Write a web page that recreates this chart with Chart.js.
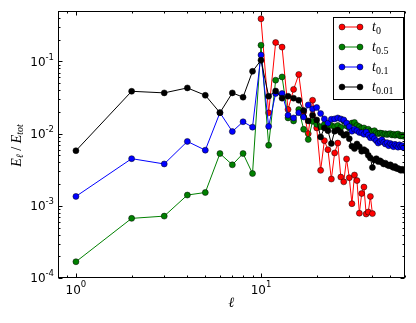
<!DOCTYPE html>
<html><head><meta charset="utf-8">
<script src="https://cdn.jsdelivr.net/npm/chart.js@4/dist/chart.umd.min.js"></script>
<style>html,body{margin:0;padding:0;background:#fff}#wrap{width:416px;height:323px}</style>
</head><body><div id="wrap"><canvas id="c" width="416" height="323"></canvas></div>
<script>
// ---- data ----
const ell = [1,2,3,4,5,6,7,8,9,10,11,12,13,14,15,16,17,18,19,20,21,22,23,24,25,26,27,28,29,30,
             31,32,33,34,35,36,37,38,39,40,41,42,43,44,45,46,47,48,49,50,51,52,53,54,55,56,57,58,59];
const seriesLabels = ['0', '0.5', '0.1', '0.01'];
const t0 = [null,null,null,null,null,null,null,null,null,
  0.39,0.0194,0.183,0.158,0.0216,0.041,0.066,0.020,0.0100,0.029,0.012,
  0.0031,0.008,0.006,0.00235,0.0054,0.0074,0.0025,0.00215,0.00446,0.00245,
  0.00107,0.00267,0.00224,0.00079,0.00148,0.00182,0.00077,0.00082,0.00135,0.00078,
  null,null,null,null,null,null,null,null,null,null,null,null,null,null,null,null,null,null,null];
const t05 = [0.000168,0.00067,0.00072,0.00141,0.00153,0.0053,0.0037,0.0053,0.0028,
  0.168,0.0069,0.055,0.061,0.0165,0.015,0.0216,0.0115,0.0083,0.0148,0.0135,
  0.0125,0.0134,0.0128,0.0130,0.0125,0.0130,0.0122,0.0150,0.0128,0.0120,
  0.0140,0.0143,0.0130,0.0125,0.0118,0.0120,0.0112,0.0115,0.0108,0.0106,
  0.0110,0.0103,0.0100,0.0102,0.0101,0.0098,0.0100,0.0097,0.0099,0.0100,
  0.0096,0.0098,0.0095,0.0097,0.0099,0.0094,0.0093,0.0095,0.0092];
const t01 = [0.00135,0.0045,0.0038,0.0078,0.0059,0.0195,0.0107,0.0146,0.0123,
  0.123,0.0126,0.036,0.036,0.018,0.0165,0.0195,0.017,0.025,0.022,0.023,
  0.019,0.016,0.014,0.0158,0.016,0.0165,0.016,0.0155,0.014,0.0125,
  0.0108,0.0115,0.0110,0.0104,0.0103,0.0098,0.0105,0.0095,0.0088,0.0092,
  0.0085,0.0080,0.0074,0.0078,0.0082,0.0076,0.0072,0.0075,0.0068,0.0073,
  0.0070,0.0066,0.0071,0.0068,0.0065,0.0070,0.0066,0.0068,0.0064];
const t001 = [0.0058,0.0386,0.0367,0.043,0.034,0.0195,0.0367,0.032,0.073,
  0.104,0.033,0.039,0.031,0.033,0.031,0.029,0.021,0.015,0.018,0.0155,
  0.009,0.012,0.011,0.0073,0.0108,0.0112,0.0104,0.0095,0.0098,0.0085,
  0.0067,0.0062,0.0072,0.0066,0.0057,0.0060,0.0057,0.0050,0.0046,0.0034,
  0.0043,0.0045,0.0041,0.0042,0.0040,0.0038,0.0039,0.0037,0.0036,0.0037,
  0.0035,0.0034,0.0035,0.0033,0.0033,0.0032,0.0031,0.0032,0.0031];
const xTickValues = [1, 10];
const xTickLabels = [['10','0'], ['10','1']];
const yTickValues = [1e-4, 1e-3, 1e-2, 1e-1];
const yTickLabels = [['10','-4'], ['10','-3'], ['10','-2'], ['10','-1']];

// ---- styles ----
const colors = ['#ff0000', '#008000', '#0000ff', '#000000'];
const allSeries = [t0, t05, t01, t001];

function pts(vals) {
  const out = [];
  vals.forEach((v, i) => { if (v !== null) out.push({x: ell[i], y: v}); });
  return out;
}

const datasets = allSeries.map((vals, i) => ({
  label: 't' + seriesLabels[i],
  data: pts(vals),
  borderColor: colors[i],
  backgroundColor: colors[i],
  pointBackgroundColor: colors[i],
  pointBorderColor: '#000',
  pointBorderWidth: 0.5,
  pointRadius: 3,
  borderWidth: 1,
  tension: 0,
  order: 4 - i
}));

const SANS = "'DejaVu Sans', sans-serif";
const SERIF = "'Liberation Serif','DejaVu Serif', serif";

function richWidth(ctx, parts) {
  let w = 0;
  parts.forEach(p => { ctx.font = p.font; w += ctx.measureText(p.t).width; });
  return w;
}
function drawRich(ctx, parts, x, y) {
  let cx = x;
  parts.forEach(p => {
    ctx.font = p.font;
    ctx.fillText(p.t, cx, y + (p.dy || 0));
    cx += ctx.measureText(p.t).width;
  });
}

const deco = {
  id: 'deco',
  afterDraw(chart) {
    const ctx = chart.ctx;
    const a = chart.chartArea;
    const xs = chart.scales.x, ys = chart.scales.y;
    ctx.save();
    ctx.fillStyle = '#000';
    ctx.strokeStyle = '#000';
    ctx.lineWidth = 1;
    const L = Math.round(a.left) + 0.5, R = Math.round(a.right) - 0.5;
    const T = Math.round(a.top) + 0.5, B = Math.round(a.bottom) - 0.5;
    // ticks
    ctx.beginPath();
    for (let d = -1; d <= 2; d++) {
      for (let m = 1; m <= 9; m++) {
        const v = m * Math.pow(10, d);
        if (v < xs.min || v > xs.max) continue;
        const px = Math.round(xs.getPixelForValue(v)) + 0.5;
        const len = m === 1 ? 4 : 2;
        ctx.moveTo(px, B); ctx.lineTo(px, B - len);
        ctx.moveTo(px, T); ctx.lineTo(px, T + len);
      }
    }
    for (let d = -5; d <= 0; d++) {
      for (let m = 1; m <= 9; m++) {
        const v = m * Math.pow(10, d);
        if (v < ys.min || v > ys.max) continue;
        const py = Math.round(ys.getPixelForValue(v)) + 0.5;
        const len = m === 1 ? 4 : 2;
        ctx.moveTo(L, py); ctx.lineTo(L + len, py);
        ctx.moveTo(R, py); ctx.lineTo(R - len, py);
      }
    }
    ctx.stroke();
    // frame
    ctx.strokeRect(L, T, R - L, B - T);

    // tick labels
    ctx.textBaseline = 'middle';
    ctx.textAlign = 'left';
    const baseF = '12px ' + SANS, expF = '8.5px ' + SANS;
    yTickValues.forEach((v, i) => {
      const py = ys.getPixelForValue(v);
      const parts = [{t: yTickLabels[i][0], font: baseF, dy: 1},
                     {t: yTickLabels[i][1], font: expF, dy: -4}];
      const w = richWidth(ctx, parts);
      drawRich(ctx, parts, a.left - 4 - w, py);
    });
    xTickValues.forEach((v, i) => {
      const px = xs.getPixelForValue(v);
      const parts = [{t: xTickLabels[i][0], font: baseF, dy: 0},
                     {t: xTickLabels[i][1], font: expF, dy: -6}];
      const w = richWidth(ctx, parts);
      drawRich(ctx, parts, px - w / 2, a.bottom + 13);
    });

    // x title
    ctx.font = 'italic 14px ' + SERIF;
    ctx.textAlign = 'center';
    ctx.fillText('ℓ', (a.left + a.right) / 2, a.bottom + 25);

    // y title
    ctx.save();
    ctx.translate(17, (a.top + a.bottom) / 2 + 1);
    ctx.rotate(-Math.PI / 2);
    ctx.textAlign = 'left';
    const yParts = [
      {t: 'E', font: 'italic 14px ' + SERIF, dy: 0},
      {t: 'ℓ', font: 'italic 10px ' + SERIF, dy: 3},
      {t: ' / ', font: '14px ' + SERIF, dy: 0},
      {t: 'E', font: 'italic 14px ' + SERIF, dy: 0},
      {t: 'tot', font: 'italic 10px ' + SERIF, dy: 3}
    ];
    const yw = richWidth(ctx, yParts);
    drawRich(ctx, yParts, -yw / 2, 0);
    ctx.restore();

    // legend
    const lx = 333.5, ly = 17.5, lw = 70, lh = 82;
    ctx.fillStyle = '#fff';
    ctx.fillRect(lx, ly, lw, lh);
    ctx.strokeStyle = '#000';
    ctx.strokeRect(lx, ly, lw, lh);
    const rows = [27, 47, 67, 87];
    seriesLabels.forEach((lab, i) => {
      const y = rows[i];
      ctx.strokeStyle = colors[i];
      ctx.lineWidth = 1;
      ctx.beginPath(); ctx.moveTo(342, y); ctx.lineTo(360, y); ctx.stroke();
      [342, 360].forEach(px => {
        ctx.beginPath(); ctx.arc(px, y, 3, 0, Math.PI * 2);
        ctx.fillStyle = colors[i]; ctx.fill();
        ctx.strokeStyle = '#000'; ctx.lineWidth = 0.5; ctx.stroke();
      });
      ctx.fillStyle = '#000';
      ctx.textAlign = 'left';
      ctx.textBaseline = 'middle';
      drawRich(ctx, [{t: 't', font: 'italic 14px ' + SERIF, dy: 0},
                     {t: lab, font: '10px ' + SERIF, dy: 4}], 372, y);
    });
    ctx.restore();
  }
};

new Chart(document.getElementById('c'), {
  type: 'line',
  data: { datasets },
  options: {
    responsive: false,
    animation: false,
    devicePixelRatio: 1,
    layout: { padding: { left: 58, right: 11, top: 11, bottom: 45 } },
    scales: {
      x: { type: 'logarithmic', min: 0.8, max: 60,
           ticks: { display: false }, grid: { display: false }, border: { display: false },
           afterFit: s => { s.height = 0; } },
      y: { type: 'logarithmic', min: 1e-4, max: 0.5,
           ticks: { display: false }, grid: { display: false }, border: { display: false },
           afterFit: s => { s.width = 0; } }
    },
    plugins: { legend: { display: false }, tooltip: { enabled: false } }
  },
  plugins: [deco]
});
</script></body></html>
